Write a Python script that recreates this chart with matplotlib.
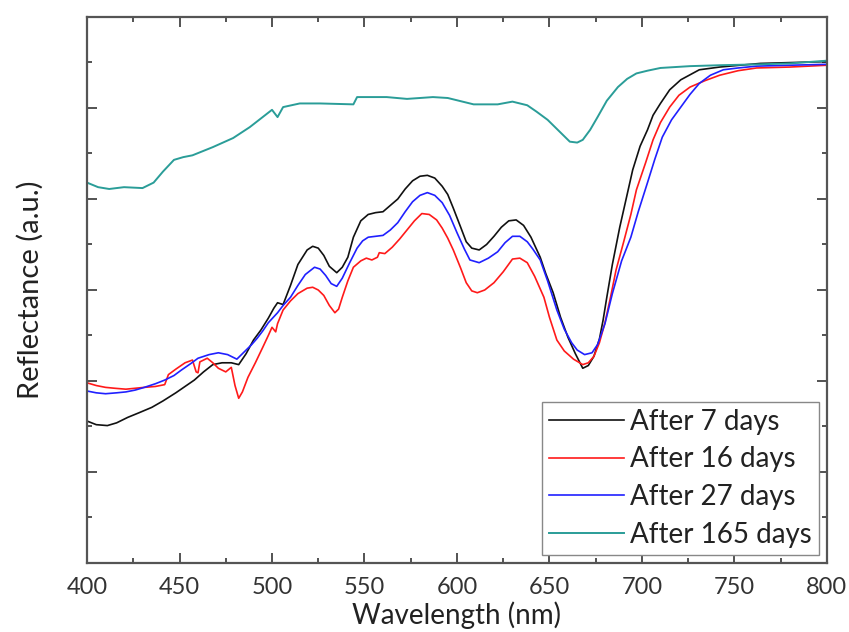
import matplotlib.pyplot as plt
from matplotlib.ticker import MultipleLocator, NullFormatter

plt.rcParams['font.family'] = ['Lato', 'DejaVu Sans']

# After 7 days
wl_7 = [400, 405, 411, 416, 422, 428, 435, 441, 448, 453, 458, 463, 468, 473,
        478, 482, 486, 490, 494, 498, 501, 503, 506, 510, 514, 519, 522, 525,
        528, 531, 535, 538, 541, 544, 548, 552, 556, 560, 564, 568, 572, 576,
        580, 584, 588, 592, 595, 598, 602, 605, 608, 612, 616, 620, 624, 628,
        632, 636, 640, 645, 648, 652, 656, 660, 664, 668, 671, 674, 677, 679,
        681, 684, 688, 692, 695, 699, 703, 706, 710, 715, 721, 731, 742, 764,
        800]
r_7 = [15.6, 15.2, 15.1, 15.4, 16.0, 16.5, 17.1, 17.8, 18.7, 19.4, 20.1, 21.0,
       21.8, 22.0, 22.0, 21.8, 23.0, 24.5, 25.6, 26.9, 28.0, 28.6, 28.4, 30.5,
       32.8, 34.4, 34.8, 34.6, 33.8, 32.6, 31.9, 32.5, 33.6, 35.8, 37.6, 38.3,
       38.5, 38.6, 39.3, 40.0, 41.1, 42.0, 42.5, 42.6, 42.3, 41.4, 40.5, 39.0,
       36.9, 35.3, 34.6, 34.4, 35.0, 35.9, 36.9, 37.6, 37.7, 37.1, 35.8, 33.6,
       31.8, 29.7, 27.0, 24.8, 23.0, 21.4, 21.7, 22.7, 24.6, 26.7, 29.2, 32.8,
       36.9, 40.5, 43.2, 45.8, 47.6, 49.2, 50.5, 52.0, 53.1, 54.2, 54.5, 54.9,
       55.1]

# After 16 days
wl_16 = [400, 405, 410, 415, 421, 426, 431, 437, 442, 444, 448, 453, 457, 459,
         460, 461, 465, 468, 471, 475, 478, 480, 482, 484, 487, 491, 495, 498,
         500, 502, 503, 506, 510, 514, 519, 522, 525, 528, 531, 534, 536, 538,
         541, 544, 548, 551, 554, 557, 558, 561, 565, 569, 573, 577, 581, 585,
         589, 592, 595, 598, 602, 605, 608, 611, 615, 620, 625, 630, 634, 638,
         642, 647, 650, 654, 658, 663, 668, 671, 674, 677, 680, 683, 686, 690,
         694, 697, 702, 706, 710, 715, 720, 726, 734, 742, 752, 762, 780, 800]
r_16 = [19.8, 19.5, 19.3, 19.2, 19.1, 19.2, 19.3, 19.4, 19.6, 20.7, 21.3, 22.0,
        22.3, 21.0, 20.9, 22.1, 22.5, 22.0, 21.4, 21.0, 21.5, 19.5, 18.1, 18.8,
        20.4, 22.0, 23.7, 25.0, 25.9, 25.4, 26.3, 27.8, 28.8, 29.6, 30.2, 30.3,
        30.0, 29.4, 28.3, 27.5, 27.9, 29.2, 31.0, 32.5, 33.2, 33.5, 33.3, 33.6,
        34.1, 34.0, 34.7, 35.6, 36.6, 37.6, 38.4, 38.3, 37.7, 36.8, 35.7, 34.4,
        32.4, 30.8, 29.9, 29.7, 30.0, 30.8, 32.0, 33.4, 33.5, 33.0, 31.5, 29.2,
        27.0, 24.5, 23.3, 22.4, 21.8, 22.0, 22.7, 24.2, 26.4, 29.2, 32.2, 35.2,
        38.3, 41.0, 44.0, 46.5, 48.4, 50.1, 51.4, 52.3, 53.0, 53.6, 54.1, 54.4,
        54.5, 54.7]

# After 27 days
wl_27 = [400, 405, 410, 416, 421, 426, 431, 437, 442, 447, 451, 456, 460, 466,
         471, 476, 481, 485, 489, 492, 495, 498, 503, 506, 510, 514, 518, 523,
         526, 529, 532, 535, 538, 542, 546, 549, 552, 556, 560, 564, 568, 572,
         576, 580, 584, 588, 592, 596, 600, 604, 607, 612, 617, 622, 626, 630,
         634, 638, 641, 645, 649, 654, 658, 662, 665, 669, 673, 676, 680, 684,
         689, 694, 698, 703, 707, 711, 716, 721, 726, 731, 737, 744, 752, 762,
         780, 800]
r_27 = [18.9, 18.7, 18.6, 18.7, 18.8, 19.0, 19.3, 19.7, 20.1, 20.6, 21.2, 21.9,
        22.5, 22.9, 23.1, 22.9, 22.4, 23.2, 24.0, 24.7, 25.5, 26.4, 27.5, 28.3,
        29.2, 30.5, 31.7, 32.5, 32.3, 31.6, 30.7, 30.4, 31.3, 33.0, 34.6, 35.4,
        35.8, 35.9, 36.0, 36.6, 37.4, 38.6, 39.7, 40.4, 40.7, 40.4, 39.6, 38.2,
        36.3, 34.5, 33.3, 33.0, 33.5, 34.2, 35.2, 35.9, 35.9, 35.3, 34.5, 33.3,
        31.0, 27.8, 25.7, 24.2, 23.4, 22.9, 23.1, 24.0, 26.3, 29.6, 33.2, 35.8,
        38.6, 41.8, 44.4, 46.8, 48.7, 50.1, 51.5, 52.7, 53.6, 54.2, 54.4, 54.6,
        54.7, 54.8]

# After 165 days
wl_165 = [400, 406, 412, 420, 430, 436, 441, 447, 452, 457, 468, 479, 488, 500,
          503, 506, 515, 526, 544, 546, 562, 573, 587, 595, 609, 622, 630, 638,
          643, 649, 653, 657, 661, 665, 668, 672, 676, 681, 687, 692, 697, 703,
          710, 726, 742, 764, 780, 800]
r_165 = [41.8, 41.3, 41.1, 41.3, 41.2, 41.8, 43.0, 44.3, 44.6, 44.8, 45.7, 46.7,
         47.9, 49.8, 49.0, 50.1, 50.5, 50.5, 50.4, 51.2, 51.2, 51.0, 51.2, 51.1,
         50.4, 50.4, 50.7, 50.3, 49.6, 48.7, 47.9, 47.1, 46.3, 46.2, 46.5, 47.6,
         49.0, 50.8, 52.3, 53.2, 53.8, 54.1, 54.4, 54.6, 54.7, 54.8, 54.9, 55.2]

fig = plt.figure(figsize=(8.49, 6.32), dpi=100)
ax = fig.add_axes([0.1025, 0.1092, 0.8715, 0.8639])

ax.plot(wl_7, r_7, color='#111111', lw=1.2, label='After 7 days')
ax.plot(wl_16, r_16, color='#ff1a1a', lw=1.2, label='After 16 days')
ax.plot(wl_27, r_27, color='#2020ff', lw=1.2, label='After 27 days')
ax.plot(wl_165, r_165, color='#2a9d98', lw=1.4, label='After 165 days')

ax.set_xlim(400, 800)
ax.set_ylim(0, 60)
ax.xaxis.set_major_locator(MultipleLocator(50))
ax.xaxis.set_minor_locator(MultipleLocator(25))
ax.yaxis.set_major_locator(MultipleLocator(10))
ax.yaxis.set_minor_locator(MultipleLocator(5))
ax.yaxis.set_major_formatter(NullFormatter())

ax.tick_params(which='both', direction='in', top=True, right=True,
               width=1.3, color='#444444', labelsize=17, labelcolor='#333333')
ax.tick_params(which='major', length=7, pad=10)
ax.tick_params(which='minor', length=3.5)
for s in ax.spines.values():
    s.set_linewidth(1.6)
    s.set_color('#555555')

ax.set_xlabel('Wavelength (nm)', fontsize=20, color='#222222')
ax.set_ylabel('Reflectance (a.u.)', fontsize=21, color='#222222')
ax.xaxis.set_label_coords(0.5, -0.07)
ax.yaxis.set_label_coords(-0.058, 0.5)

leg = ax.legend(loc='lower right', fontsize=20, handlelength=2.7,
                fancybox=False, borderaxespad=0.3, labelspacing=0.42,
                handletextpad=0.2, borderpad=0.25, framealpha=1)
leg.get_frame().set_edgecolor('#888888')
leg.get_frame().set_linewidth(1.0)
for t in leg.get_texts():
    t.set_color('#222222')

fig.savefig('out.png', dpi=100)
